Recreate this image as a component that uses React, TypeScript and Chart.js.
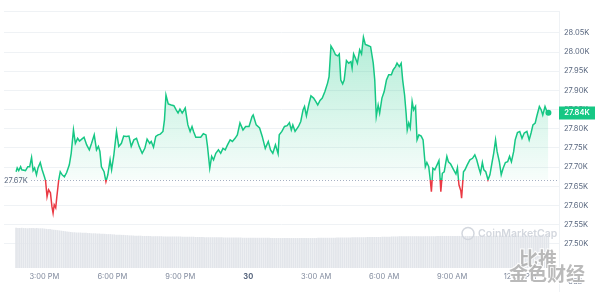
import React, { useEffect, useRef } from 'react';
import { Chart, registerables } from 'chart.js';

Chart.register(...registerables);

// minutes relative to 3:00 PM (Mar 29)
const priceTimes = [
  -75, -72, -68, -63, -60, -50, -44, -39, -34, -30,
  -26, -21, -17, -11, -6, 0, 3, 7, 11, 16,
  20, 23, 26, 30, 33, 38, 42, 47, 53, 59,
  66, 71, 77, 82, 88, 93, 99, 105, 112, 119,
  125, 132, 138, 143, 147, 151, 158, 163, 168, 174,
  178, 184, 191, 197, 204, 210, 217, 224, 230, 237,
  244, 251, 259, 266, 272, 279, 283, 289, 295, 301,
  307, 314, 318, 322, 328, 336, 343, 349, 354, 359,
  365, 369, 373, 380, 386, 391, 395, 401, 414, 421,
  428, 432, 438, 443, 448, 454, 461, 467, 473, 479,
  485, 492, 498, 505, 511, 518, 526, 533, 542, 550,
  553, 561, 570, 577, 585, 593, 599, 605, 612, 619,
  622, 629, 636, 643, 649, 654, 658, 664, 673, 679,
  685, 689, 694, 700, 706, 713, 719, 724, 730, 736,
  743, 750, 754, 759, 765, 771, 777, 781, 785, 790,
  794, 800, 806, 812, 815, 819, 824, 829, 835, 840,
  845, 850, 857, 864, 871, 875, 879, 884, 888, 894,
  900, 906, 912, 919, 924, 930, 934, 940, 945, 949,
  954, 958, 961, 965, 969, 974, 978, 983, 987, 992,
  998, 1003, 1009, 1013, 1018, 1022, 1025, 1029, 1034, 1040,
  1045, 1048, 1050, 1054, 1059, 1066, 1070, 1076, 1084, 1090,
  1094, 1098, 1103, 1105, 1110, 1114, 1120, 1127, 1134, 1140,
  1145, 1151, 1155, 1160, 1164, 1169, 1175, 1180, 1186, 1190,
  1195, 1199, 1205, 1210, 1215, 1221, 1227, 1232, 1237, 1243,
  1247, 1253, 1259, 1265, 1271, 1278, 1284, 1289, 1294, 1300,
  1304, 1311, 1316, 1320, 1326, 1331, 1335,
];

const prices = [
  27688, 27698, 27691, 27701, 27693, 27691, 27701, 27701, 27725, 27691,
  27698, 27680, 27698, 27712, 27693, 27675, 27665, 27623, 27641, 27633,
  27597, 27580, 27602, 27594, 27623, 27667, 27688, 27680, 27675, 27686,
  27706, 27736, 27797, 27762, 27775, 27768, 27773, 27778, 27758, 27745,
  27762, 27784, 27745, 27754, 27741, 27701, 27688, 27662, 27680, 27719,
  27693, 27732, 27793, 27754, 27762, 27781, 27780, 27781, 27754, 27771,
  27775, 27754, 27736, 27749, 27773, 27762, 27767, 27752, 27780, 27784,
  27786, 27793, 27823, 27888, 27865, 27862, 27860, 27849, 27841, 27851,
  27841, 27847, 27854, 27810, 27793, 27806, 27793, 27778, 27778, 27787,
  27784, 27754, 27697, 27728, 27719, 27736, 27745, 27736, 27749, 27745,
  27758, 27771, 27767, 27775, 27784, 27815, 27797, 27806, 27806, 27832,
  27836, 27810, 27802, 27780, 27749, 27767, 27745, 27736, 27758, 27735,
  27784, 27793, 27806, 27808, 27816, 27797, 27810, 27793, 27806, 27819,
  27849, 27858, 27834, 27862, 27886, 27880, 27871, 27862, 27874, 27880,
  27897, 27919, 27936, 28016, 28006, 27993, 27990, 27995, 27927, 27917,
  27927, 27978, 27971, 27975, 27958, 27995, 27984, 27971, 28006, 27995,
  28039, 28020, 28017, 28014, 27971, 27927, 27832, 27862, 27841, 27880,
  27897, 27927, 27941, 27941, 27954, 27962, 27971, 27962, 27971, 27927,
  27888, 27841, 27797, 27815, 27802, 27871, 27849, 27858, 27771, 27784,
  27781, 27771, 27701, 27712, 27701, 27667, 27636, 27697, 27693, 27706,
  27717, 27671, 27636, 27684, 27688, 27728, 27714, 27708, 27693, 27682,
  27698, 27654, 27638, 27619, 27688, 27693, 27706, 27719, 27723, 27732,
  27719, 27697, 27684, 27712, 27693, 27688, 27667, 27680, 27714, 27736,
  27771, 27741, 27714, 27680, 27697, 27712, 27714, 27728, 27714, 27741,
  27771, 27790, 27793, 27775, 27789, 27793, 27771, 27789, 27810, 27815,
  27832, 27858, 27849, 27836, 27858, 27845, 27842,
];

// 24h volume (billions USD), one bar every 5 minutes from volumeStart
const volumeStart = -75;
const volumeStep = 5;
const volumes = [
  15.2, 15.1, 15.1, 15.2, 15.1, 15.1, 15.0, 15.1, 15.1, 15.1,
  15.0, 15.1, 15.0, 15.0, 15.0, 14.9, 14.8, 14.7, 14.7, 14.6,
  14.5, 14.4, 14.3, 14.2, 14.1, 14.0, 13.9, 13.8, 13.7, 13.6,
  13.5, 13.5, 13.4, 13.4, 13.4, 13.3, 13.3, 13.3, 13.2, 13.2,
  13.1, 13.1, 13.1, 13.0, 13.0, 12.9, 12.9, 12.9, 12.8, 12.8,
  12.8, 12.7, 12.7, 12.6, 12.6, 12.6, 12.5, 12.5, 12.4, 12.4,
  12.3, 12.3, 12.3, 12.2, 12.2, 12.2, 12.2, 12.1, 12.1, 12.1,
  12.1, 12.1, 12.0, 12.0, 12.0, 12.0, 12.0, 12.0, 11.9, 11.9,
  11.9, 11.9, 11.9, 11.9, 11.9, 11.9, 11.9, 11.9, 11.8, 11.8,
  11.8, 11.8, 11.8, 11.8, 11.8, 11.7, 11.7, 11.7, 11.7, 11.7,
  11.6, 11.6, 11.6, 11.6, 11.6, 11.6, 11.6, 11.6, 11.6, 11.6,
  11.5, 11.5, 11.5, 11.5, 11.5, 11.5, 11.5, 11.5, 11.5, 11.5,
  11.4, 11.4, 11.4, 11.4, 11.4, 11.4, 11.4, 11.4, 11.4, 11.4,
  11.4, 11.4, 11.4, 11.4, 11.4, 11.3, 11.3, 11.3, 11.3, 11.3,
  11.3, 11.3, 11.3, 11.3, 11.3, 11.3, 11.3, 11.3, 11.3, 11.3,
  11.3, 11.3, 11.3, 11.3, 11.3, 11.3, 11.3, 11.3, 11.3, 11.3,
  11.4, 11.4, 11.4, 11.4, 11.4, 11.4, 11.4, 11.4, 11.4, 11.4,
  11.5, 11.5, 11.5, 11.5, 11.5, 11.5, 11.5, 11.5, 11.6, 11.6,
  11.6, 11.6, 11.6, 11.6, 11.6, 11.6, 11.7, 11.7, 11.7, 11.7,
  11.7, 11.7, 11.7, 11.7, 11.8, 11.8, 11.8, 11.8, 11.8, 11.9,
  11.9, 11.9, 11.9, 12.0, 12.0, 12.0, 12.0, 12.0, 12.0, 12.0,
  12.0, 12.0, 12.0, 12.0, 12.0, 12.0, 12.0, 12.0, 12.0, 12.0,
  12.0, 12.0, 12.0, 12.1, 12.1, 12.1, 12.1, 12.1, 12.1, 12.1,
  12.1, 12.1, 12.1, 12.1, 12.1, 12.1, 12.1, 12.1, 12.1, 12.1,
  12.1, 12.1, 12.1, 12.1, 12.1, 12.1, 12.1, 12.1, 12.1, 12.1,
  12.1, 12.1, 12.1, 12.2, 12.2, 12.2, 12.2, 12.2, 12.2, 12.2,
  12.2, 12.2, 12.2, 12.2, 12.2, 12.2, 12.2, 12.2, 12.2, 12.2,
  12.2, 12.2, 12.2, 12.2, 12.2, 12.2, 12.2, 12.2, 12.2, 12.2,
  12.2, 12.2, 12.2,
];

const openPrice = 27667;
const openLabel = '27.67K';
const lastLabel = '27.84K';

const xTickValues = [0, 180, 360, 540, 720, 900, 1080, 1260];
const xTickLabels = ['3:00 PM', '6:00 PM', '9:00 PM', '30', '3:00 AM', '6:00 AM', '9:00 AM', '12:00 PM'];
const dayTickValue = 540;

const yTickValues = [27500, 27550, 27600, 27650, 27700, 27750, 27800, 27850, 27900, 27950, 28000, 28050];
const yTickLabels = ['27.50K', '27.55K', '27.60K', '27.65K', '27.70K', '27.75K', '27.80K', '27.85K', '27.90K', '27.95K', '28.00K', '28.05K'];

const GREEN = '#16c784';
const RED = '#ea3943';
const FONT = "Inter, 'Noto Sans', sans-serif";

function lineGradient(chart: any) {
  const { ctx, chartArea, scales } = chart;
  if (!chartArea || !scales.y) return GREEN;
  const yb = scales.y.getPixelForValue(openPrice);
  const h = chartArea.bottom - chartArea.top;
  const f = Math.min(1, Math.max(0, (yb - chartArea.top) / h));
  const g = ctx.createLinearGradient(0, chartArea.top, 0, chartArea.bottom);
  g.addColorStop(0, GREEN);
  g.addColorStop(f, GREEN);
  g.addColorStop(Math.min(1, f + 0.0001), RED);
  g.addColorStop(1, RED);
  return g;
}

function fillGradient(chart: any) {
  const { ctx, chartArea, scales } = chart;
  if (!chartArea || !scales.y) return 'rgba(22,199,132,0.15)';
  const yb = scales.y.getPixelForValue(openPrice);
  const g = ctx.createLinearGradient(0, chartArea.top, 0, yb);
  g.addColorStop(0, 'rgba(22,199,132,0.38)');
  g.addColorStop(1, 'rgba(22,199,132,0.03)');
  return g;
}

const decorPlugin = {
  id: 'decor',
  beforeDatasetsDraw(chart: any) {
    const { ctx, chartArea: a, scales } = chart;
    ctx.save();
    ctx.strokeStyle = '#eff2f5';
    ctx.lineWidth = 1;
    ctx.beginPath();
    ctx.moveTo(a.left, Math.round(a.top) + 0.5);
    ctx.lineTo(a.right, Math.round(a.top) + 0.5);
    ctx.moveTo(Math.round(a.right) + 0.5, a.top);
    ctx.lineTo(Math.round(a.right) + 0.5, chart.height);
    ctx.stroke();
    // baseline (opening price)
    const yb = Math.round(scales.y.getPixelForValue(openPrice)) + 0.5;
    ctx.strokeStyle = '#a6b0c3';
    ctx.setLineDash([1, 2]);
    ctx.beginPath();
    ctx.moveTo(31, yb);
    ctx.lineTo(a.right, yb);
    ctx.stroke();
    ctx.setLineDash([]);
    ctx.fillStyle = '#58667e';
    ctx.font = `7.5px ${FONT}`;
    ctx.textBaseline = 'middle';
    ctx.textAlign = 'left';
    ctx.fillText(openLabel, 4, yb);
    ctx.restore();
  },
  afterDraw(chart: any) {
    const { ctx, chartArea: a, scales } = chart;
    ctx.save();
    // CoinMarketCap watermark
    ctx.strokeStyle = '#d3d7de';
    ctx.lineWidth = 1.5;
    ctx.beginPath();
    ctx.arc(468, 233.5, 6, 0, Math.PI * 2);
    ctx.stroke();
    ctx.fillStyle = '#d3d7de';
    ctx.font = `600 10.5px ${FONT}`;
    ctx.textBaseline = 'middle';
    ctx.textAlign = 'left';
    ctx.fillText('CoinMarketCap', 478, 234);
    // last price badge
    const yl = scales.y.getPixelForValue(prices[prices.length - 1]);
    ctx.fillStyle = GREEN;
    ctx.fillRect(Math.round(a.right), Math.round(yl) - 6.5, 36, 13);
    ctx.fillStyle = '#ffffff';
    ctx.font = `600 7.5px ${FONT}`;
    ctx.textAlign = 'center';
    ctx.fillText(lastLabel, Math.round(a.right) + 18, Math.round(yl));
    // USD
    ctx.fillStyle = '#808a9d';
    ctx.font = `7px ${FONT}`;
    ctx.textAlign = 'left';
    ctx.fillText('USD', 568, 282);
    // overlay watermark text
    ctx.font = `bold 19px 'Noto Sans CJK SC', sans-serif`;
    ctx.lineWidth = 2;
    ctx.strokeStyle = 'rgba(255,255,255,0.9)';
    ctx.fillStyle = 'rgba(140,140,140,0.6)';
    ctx.textBaseline = 'alphabetic';
    ctx.strokeText('比推', 519, 266);
    ctx.fillText('比推', 519, 266);
    ctx.strokeText('金色财经', 509, 281);
    ctx.fillText('金色财经', 509, 281);
    ctx.restore();
  },
};

export default function App() {
  const ref = useRef<HTMLCanvasElement | null>(null);
  useEffect(() => {
    document.body.style.margin = '0';
    if (!ref.current) return;
    const chart = new Chart(ref.current, {
      type: 'line',
      data: {
        datasets: [
          {
            type: 'line',
            data: priceTimes.map((t, i) => ({ x: t, y: prices[i] })),
            yAxisID: 'y',
            borderWidth: 1.5,
            borderColor: (c: any) => lineGradient(c.chart),
            backgroundColor: (c: any) => fillGradient(c.chart),
            fill: { value: openPrice, below: 'rgba(0,0,0,0)' } as any,
            pointRadius: (c: any) => (c.dataIndex === prices.length - 1 ? 3 : 0),
            pointBackgroundColor: GREEN,
            pointBorderColor: GREEN,
            pointBorderWidth: 0,
            tension: 0,
            order: 0,
          } as any,
          {
            type: 'bar',
            data: volumes.map((v, i) => ({ x: volumeStart + i * volumeStep, y: v })),
            yAxisID: 'yv',
            backgroundColor: '#e2e5ea',
            barThickness: 1,
            order: 1,
          } as any,
        ],
      },
      options: {
        animation: false,
        responsive: false,
        devicePixelRatio: 1,
        layout: { padding: { top: 11, bottom: 7, left: 0, right: 0 } },
        plugins: { legend: { display: false }, tooltip: { enabled: false } },
        scales: {
          x: {
            type: 'linear',
            offset: false,
            min: -107,
            max: 1363,
            grid: { display: false, drawTicks: false, offset: false },
            border: { display: false },
            afterBuildTicks: (s: any) => {
              s.ticks = xTickValues.map((v) => ({ value: v }));
            },
            ticks: {
              autoSkip: false,
              maxRotation: 0,
              padding: 4,
              color: (c: any) => (c.tick && c.tick.value === dayTickValue ? '#58667e' : '#808a9d'),
              font: (c: any) => ({
                family: FONT,
                size: 7.5,
                weight: c.tick && c.tick.value === dayTickValue ? 'bold' : 'normal',
              }),
              callback: (v: any) => {
                const i = xTickValues.indexOf(Number(v));
                return i >= 0 ? xTickLabels[i] : '';
              },
            },
          },
          y: {
            position: 'right',
            min: 27437,
            max: 28107,
            afterBuildTicks: (s: any) => {
              s.ticks = yTickValues.map((v) => ({ value: v }));
            },
            afterFit: (s: any) => {
              s.width = 41;
            },
            grid: { color: '#eff2f5', drawTicks: false },
            border: { display: false },
            ticks: {
              padding: 5,
              color: '#58667e',
              font: { family: FONT, size: 7.5 },
              callback: (v: any) => {
                const i = yTickValues.indexOf(Number(v));
                return i >= 0 ? yTickLabels[i] : '';
              },
            },
          },
          yv: { display: false, min: 0, max: 98 },
        },
      } as any,
      plugins: [decorPlugin],
    });
    return () => chart.destroy();
  }, []);
  return (
    <div style={{ position: 'fixed', left: 0, top: 0, width: 600, height: 292, background: '#fff' }}>
      <canvas ref={ref} width={600} height={292} style={{ width: 600, height: 292, display: 'block' }} />
    </div>
  );
}
